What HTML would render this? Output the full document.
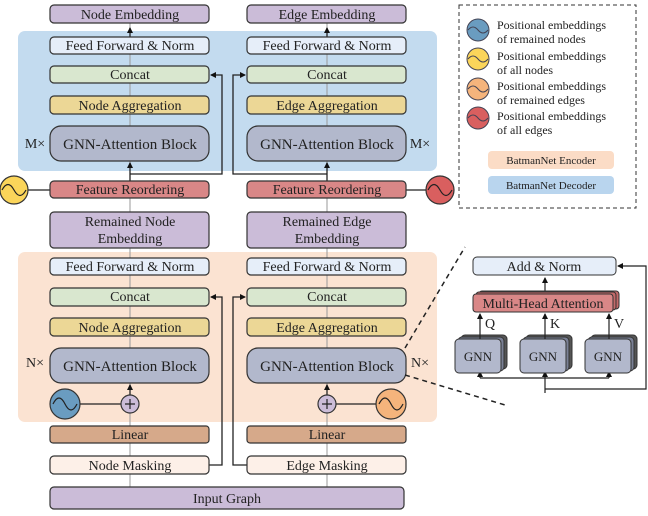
<!DOCTYPE html>
<html><head><meta charset="utf-8"><style>body{margin:0;background:#fff}svg{display:block}text{font-family:"Liberation Serif",serif;fill:#222}</style></head><body>
<svg width="648" height="516" viewBox="0 0 648 516" xmlns="http://www.w3.org/2000/svg">
<defs><marker id="a" markerWidth="6" markerHeight="6" refX="5" refY="3" orient="auto" markerUnits="userSpaceOnUse"><path d="M0,0 L6,3 L0,6z" fill="#111"/></marker></defs>
<rect x="18" y="31" width="419" height="140" rx="7" fill="#c3dbef"/>
<rect x="18" y="252" width="419" height="170" rx="7" fill="#fbe3d2"/>
<g stroke="#999" stroke-width="1">
<line x1="130" y1="23" x2="130" y2="487"/><line x1="327" y1="23" x2="327" y2="487"/>
</g>
<g stroke="#222" stroke-width="1.3" fill="none">
<line x1="130" y1="37" x2="130" y2="28" marker-end="url(#a)"/><line x1="327" y1="37" x2="327" y2="28" marker-end="url(#a)"/>
<line x1="130" y1="181" x2="130" y2="163" marker-end="url(#a)"/><line x1="327" y1="181" x2="327" y2="163" marker-end="url(#a)"/>
<line x1="130" y1="395" x2="130" y2="385" marker-end="url(#a)"/><line x1="327" y1="395" x2="327" y2="385" marker-end="url(#a)"/>
<path d="M130,174 H222 V75 H211" marker-end="url(#a)"/>
<path d="M327,174 H233 V75 H245" marker-end="url(#a)"/>
<path d="M209,465 H222 V297 H211" marker-end="url(#a)"/>
<path d="M247,465 H233 V297 H245" marker-end="url(#a)"/>
<line x1="28" y1="190" x2="50" y2="190"/><line x1="406" y1="190" x2="426" y2="190"/>
<line x1="80" y1="404" x2="121" y2="404"/><line x1="335" y1="404" x2="377" y2="404"/>
</g>
<g stroke="#333" stroke-width="1.2">
<rect x="50" y="5" width="159" height="18" rx="4" fill="#cbbcd8"/><rect x="247" y="5" width="159" height="18" rx="4" fill="#cbbcd8"/>
<rect x="50" y="37" width="159" height="17" rx="4" fill="#e6eef9"/><rect x="247" y="37" width="159" height="17" rx="4" fill="#e6eef9"/>
<rect x="50" y="66" width="159" height="17" rx="4" fill="#d9e7cf"/><rect x="247" y="66" width="159" height="17" rx="4" fill="#d9e7cf"/>
<rect x="50" y="96" width="159" height="18" rx="4" fill="#ecd796"/><rect x="247" y="96" width="159" height="18" rx="4" fill="#ecd796"/>
<rect x="50" y="126" width="159" height="35" rx="11" fill="#b2b8cc"/><rect x="247" y="126" width="159" height="35" rx="11" fill="#b2b8cc"/>
<rect x="50" y="181" width="159" height="17" rx="4" fill="#d98787"/><rect x="247" y="181" width="159" height="17" rx="4" fill="#d98787"/>
<rect x="50" y="212" width="159" height="36" rx="4" fill="#cbbcd8"/><rect x="247" y="212" width="159" height="36" rx="4" fill="#cbbcd8"/>
<rect x="50" y="258" width="159" height="17" rx="4" fill="#e6eef9"/><rect x="247" y="258" width="159" height="17" rx="4" fill="#e6eef9"/>
<rect x="50" y="288" width="159" height="18" rx="4" fill="#d9e7cf"/><rect x="247" y="288" width="159" height="18" rx="4" fill="#d9e7cf"/>
<rect x="50" y="318" width="159" height="18" rx="4" fill="#ecd796"/><rect x="247" y="318" width="159" height="18" rx="4" fill="#ecd796"/>
<rect x="50" y="348" width="159" height="35" rx="11" fill="#b2b8cc"/><rect x="247" y="348" width="159" height="35" rx="11" fill="#b2b8cc"/>
<rect x="50" y="426" width="159" height="17" rx="3" fill="#d6a98a"/><rect x="247" y="426" width="159" height="17" rx="3" fill="#d6a98a"/>
<rect x="50" y="456" width="159" height="18" rx="4" fill="#fdf0e8"/><rect x="247" y="456" width="159" height="18" rx="4" fill="#fdf0e8"/>
<rect x="50" y="487" width="354" height="22" rx="4" fill="#cbbcd8"/>
<circle cx="130" cy="404" r="9" fill="#cbbcd8"/><circle cx="327" cy="404" r="9" fill="#cbbcd8"/>
<circle cx="65" cy="404" r="15" fill="#6a9cc0"/><circle cx="391" cy="404" r="15" fill="#f5b47c"/>
<circle cx="14" cy="190" r="14" fill="#fbd55a"/><circle cx="440" cy="190" r="14" fill="#d95f5f"/>
</g>
<g stroke="#222" stroke-width="1.2" fill="none">
<path d="M53,404 q6,-12 12,0 t12,0"/><path d="M379,404 q6,-12 12,0 t12,0"/>
<path d="M2,190 q6,-11 12,0 t12,0"/><path d="M428,190 q6,-11 12,0 t12,0"/>
<path d="M125,404h10M130,399v10M322,404h10M327,399v10"/>
</g>
<g font-size="14" text-anchor="middle">
<text x="130" y="19">Node Embedding</text><text x="327" y="19">Edge Embedding</text>
<text x="130" y="50">Feed Forward &amp; Norm</text><text x="327" y="50">Feed Forward &amp; Norm</text>
<text x="130" y="79">Concat</text><text x="327" y="79">Concat</text>
<text x="130" y="110">Node Aggregation</text><text x="327" y="110">Edge Aggregation</text>
<text x="130" y="149" font-size="15">GNN-Attention Block</text><text x="327" y="149" font-size="15">GNN-Attention Block</text>
<text x="130" y="194">Feature Reordering</text><text x="327" y="194">Feature Reordering</text>
<text x="130" y="226">Remained Node</text><text x="130" y="243">Embedding</text>
<text x="327" y="226">Remained Edge</text><text x="327" y="243">Embedding</text>
<text x="130" y="271">Feed Forward &amp; Norm</text><text x="327" y="271">Feed Forward &amp; Norm</text>
<text x="130" y="301">Concat</text><text x="327" y="301">Concat</text>
<text x="130" y="332">Node Aggregation</text><text x="327" y="332">Edge Aggregation</text>
<text x="130" y="371" font-size="15">GNN-Attention Block</text><text x="327" y="371" font-size="15">GNN-Attention Block</text>
<text x="130" y="439">Linear</text><text x="327" y="439">Linear</text>
<text x="130" y="470">Node Masking</text><text x="327" y="470">Edge  Masking</text>
<text x="227" y="503">Input Graph</text>
<text x="35" y="148">M×</text><text x="420" y="148">M×</text>
<text x="35" y="367">N×</text><text x="420" y="367">N×</text>
</g>
<rect x="459" y="5" width="177" height="203" fill="none" stroke="#333" stroke-dasharray="4,3"/>
<g stroke="#445" stroke-width="1">
<circle cx="478" cy="30" r="11" fill="#6a9cc0"/><circle cx="478" cy="59" r="11" fill="#fbd55a"/>
<circle cx="478" cy="89" r="11" fill="#f5b47c"/><circle cx="478" cy="118" r="11" fill="#d95f5f"/>
</g>
<g stroke="#445" fill="none"><path d="M468,30 q5,-6 10,0 t10,0M468,59 q5,-6 10,0 t10,0M468,89 q5,-6 10,0 t10,0M468,118 q5,-6 10,0 t10,0"/></g>
<g font-size="12">
<text x="497" y="29">Positional embeddings</text><text x="497" y="43">of remained  nodes</text>
<text x="497" y="60">Positional embeddings</text><text x="497" y="74">of all nodes</text>
<text x="497" y="90">Positional embeddings</text><text x="497" y="104">of remained  edges</text>
<text x="497" y="120">Positional embeddings</text><text x="497" y="134">of all edges</text>
</g>
<rect x="488" y="151" width="126" height="18" rx="4" fill="#fbdcc6"/>
<rect x="488" y="176" width="126" height="18" rx="4" fill="#b9d5ee"/>
<g font-size="11" text-anchor="middle"><text x="551" y="164">BatmanNet Encoder</text><text x="551" y="189">BatmanNet Decoder</text></g>
<g stroke="#222" stroke-width="1.5" stroke-dasharray="5,4" fill="none">
<line x1="405" y1="348" x2="465" y2="247"/><line x1="405" y1="375" x2="505" y2="405"/>
</g>
<g stroke="#222" stroke-width="1.2" fill="none">
<line x1="545" y1="293" x2="545" y2="278" marker-end="url(#a)"/>
<path d="M545,393 V378 M480,378 H609"/>
<line x1="480" y1="378" x2="480" y2="372" marker-end="url(#a)"/><line x1="545" y1="378" x2="545" y2="372" marker-end="url(#a)"/><line x1="609" y1="378" x2="609" y2="372" marker-end="url(#a)"/>
<path d="M545,389 H646 V266 H618" marker-end="url(#a)"/>
</g>
<g stroke="#333" stroke-width="1">
<rect x="479" y="291" width="140" height="18" rx="3" fill="#c46a6a"/><rect x="476" y="292" width="140" height="18" rx="3" fill="#c46a6a"/>
<rect x="473" y="294" width="140" height="18" rx="3" fill="#d98787"/>
<rect x="473" y="257" width="143" height="18" rx="4" fill="#e6eef9"/>
<rect x="461" y="335" width="46" height="34" rx="4" fill="#555"/><rect x="458" y="337" width="46" height="34" rx="4" fill="#7a8095"/><rect x="455" y="339" width="46" height="34" rx="4" fill="#b2b8cc"/>
<rect x="526" y="335" width="46" height="34" rx="4" fill="#555"/><rect x="523" y="337" width="46" height="34" rx="4" fill="#7a8095"/><rect x="520" y="339" width="46" height="34" rx="4" fill="#b2b8cc"/>
<rect x="591" y="335" width="46" height="34" rx="4" fill="#555"/><rect x="588" y="337" width="46" height="34" rx="4" fill="#7a8095"/><rect x="585" y="339" width="46" height="34" rx="4" fill="#b2b8cc"/>
</g>
<g stroke="#222" stroke-width="1.2"><line x1="480" y1="339" x2="480" y2="314" marker-end="url(#a)"/><line x1="545" y1="339" x2="545" y2="314" marker-end="url(#a)"/><line x1="609" y1="339" x2="609" y2="314" marker-end="url(#a)"/></g>
<g font-size="14" text-anchor="middle">
<text x="544" y="271">Add &amp; Norm</text><text x="543" y="308">Multi-Head Attention</text>
<text x="478" y="361" font-size="13">GNN</text><text x="543" y="361" font-size="13">GNN</text><text x="608" y="361" font-size="13">GNN</text>
<text x="490" y="328">Q</text><text x="555" y="328">K</text><text x="619" y="328">V</text>
</g>
</svg>
</body></html>
